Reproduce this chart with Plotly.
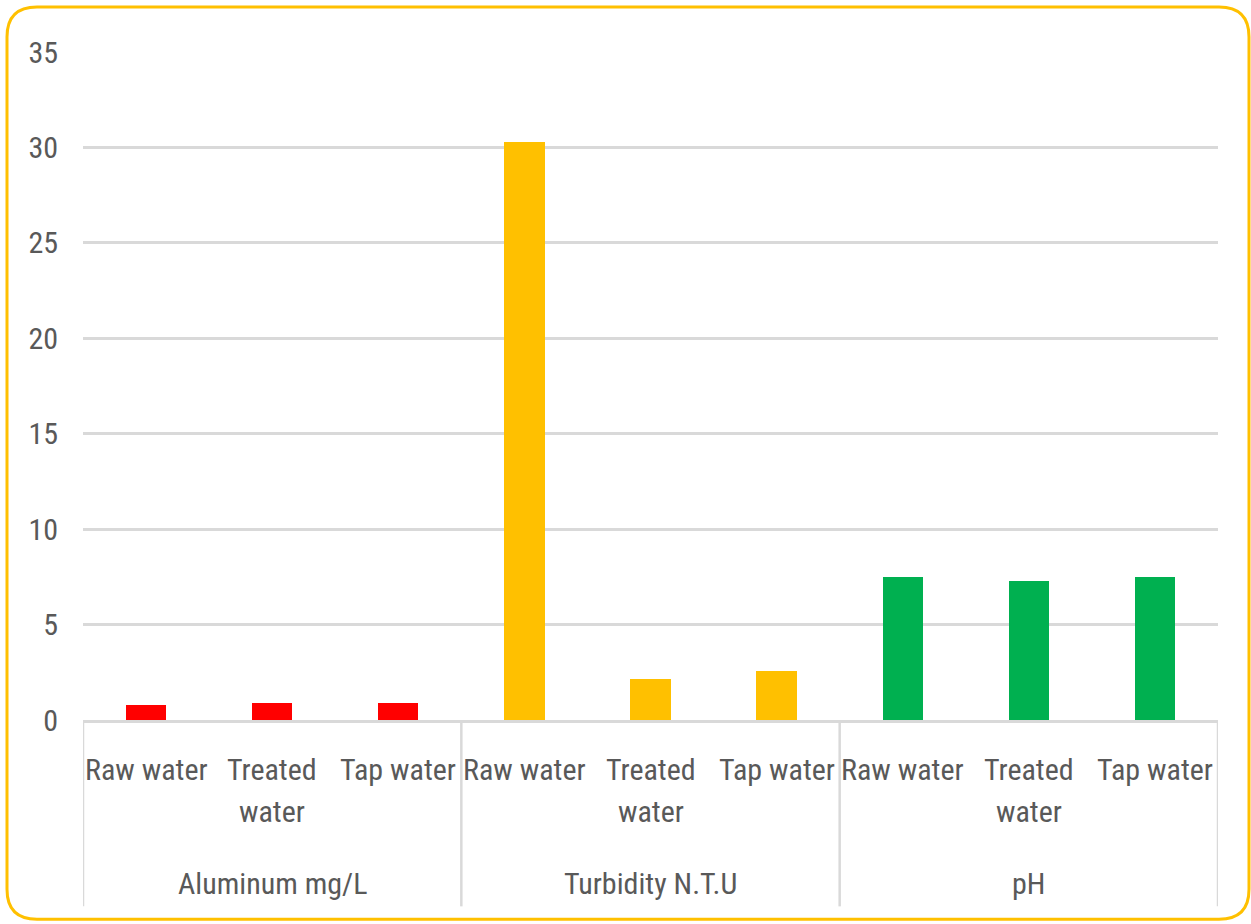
import plotly.graph_objects as go

# ---- data ----
groups = ["Aluminum mg/L", "Turbidity N.T.U", "pH"]
samples = ["Raw water", "Treated water", "Tap water"]
sample_labels = ["Raw water", "Treated<br>water", "Tap water"]
aluminum = [0.80, 0.91, 0.91]
turbidity = [30.3, 2.17, 2.55]
ph = [7.5, 7.3, 7.5]
group_colors = ["#FF0000", "#FFC000", "#00B050"]
y_ticks = [0, 5, 10, 15, 20, 25, 30, 35]

values = [aluminum, turbidity, ph]

# ---- layout geometry (pixels) ----
W, H = 1251, 924
L, R = 83, 1218
T, B = 52, 720.5
pw, ph_ = R - L, B - T


def px_x(p):
    return (p - L) / pw


def px_y(p):
    return (B - p) / ph_


FONT = "Liberation Sans Narrow, Arial Narrow, Roboto Condensed, Open Sans, sans-serif"
TXT = "#595959"

fig = go.Figure()
keys_all = []
for gi, g in enumerate(groups):
    keys = [f"{g} | {s}" for s in samples]
    keys_all += keys
    fig.add_trace(go.Bar(
        x=keys, y=values[gi], marker_color=group_colors[gi],
        marker_line_width=0, width=0.32, showlegend=False, name=g,
    ))

annotations = []
for gi, g in enumerate(groups):
    for si, s in enumerate(samples):
        for li, line in enumerate(sample_labels[si].split("<br>")):
            annotations.append(dict(
                x=f"{g} | {s}", xref="x", y=px_y(770 + 42 * li), yref="paper",
                text=line, showarrow=False, yanchor="middle", xanchor="center",
                font=dict(family=FONT, size=30, color=TXT),
            ))
    annotations.append(dict(
        x=gi * len(samples) + (len(samples) - 1) / 2, xref="x", y=px_y(884), yref="paper",
        text=g, showarrow=False, yanchor="middle", xanchor="center",
        font=dict(family=FONT, size=30, color=TXT),
    ))

shapes = []
n = len(samples)
for k in range(len(groups) + 1):
    xd = k * n - 0.5
    shapes.append(dict(type="line", xref="x", yref="paper", x0=xd, x1=xd,
                       y0=0, y1=px_y(907), line=dict(color="#D9D9D9", width=2.5)))

# rounded border
bx0, by0, bx1, by1, r = 7, 7, 1249, 920, 30
path = (
    f"M {px_x(bx0 + r)} {px_y(by0)} "
    f"L {px_x(bx1 - r)} {px_y(by0)} "
    f"Q {px_x(bx1)} {px_y(by0)} {px_x(bx1)} {px_y(by0 + r)} "
    f"L {px_x(bx1)} {px_y(by1 - r)} "
    f"Q {px_x(bx1)} {px_y(by1)} {px_x(bx1 - r)} {px_y(by1)} "
    f"L {px_x(bx0 + r)} {px_y(by1)} "
    f"Q {px_x(bx0)} {px_y(by1)} {px_x(bx0)} {px_y(by1 - r)} "
    f"L {px_x(bx0)} {px_y(by0 + r)} "
    f"Q {px_x(bx0)} {px_y(by0)} {px_x(bx0 + r)} {px_y(by0)} Z"
)
shapes.append(dict(type="path", xref="paper", yref="paper", path=path,
                   line=dict(color="#FFC000", width=3), layer="above"))

fig.update_layout(
    width=W, height=H,
    margin=dict(l=L, r=W - R, t=T, b=H - B, pad=0),
    paper_bgcolor="white", plot_bgcolor="white",
    bargap=0,
    xaxis=dict(type="category", categoryarray=keys_all, categoryorder="array",
               showticklabels=False, showgrid=False, showline=True,
               linecolor="#D9D9D9", linewidth=2.5, ticks="", range=[-0.5, len(keys_all) - 0.5],
               fixedrange=True),
    yaxis=dict(range=[0, 35], tickvals=y_ticks, showgrid=True, gridcolor="#D9D9D9",
               gridwidth=2.5, zeroline=False, showline=False, ticks="",
               ticklabelstandoff=24,
               tickfont=dict(family=FONT, size=30, color=TXT), fixedrange=True),
    annotations=annotations,
    shapes=shapes,
    font=dict(family=FONT, color=TXT),
)

fig.write_html("out.html")
